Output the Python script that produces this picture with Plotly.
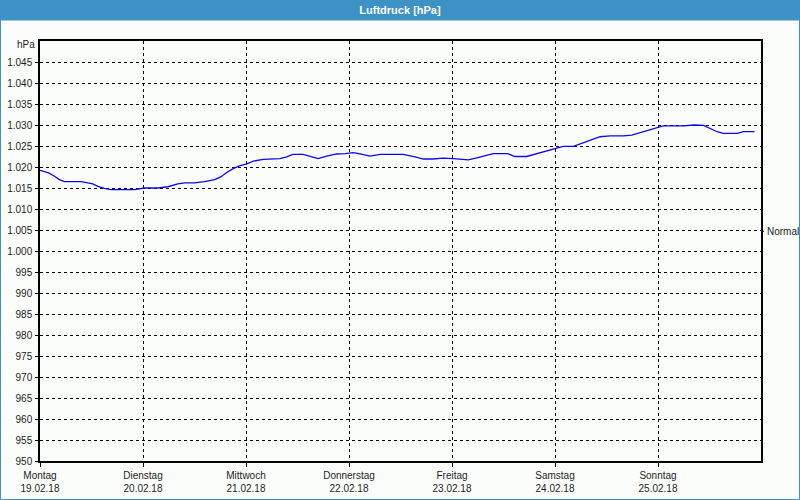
import pandas as pd
import plotly.graph_objects as go

# ---- data ----
START = "2018-02-19 00:00"
HOURS = [0, 2, 3.4, 4.5, 5.7, 9.6, 11.1, 12.3, 13.5, 15.0, 16.5, 19.8, 22.0, 24.4, 27.5,
         29.8, 32.1, 33.7, 36.0, 38.3, 40.7, 42.2, 43.5, 45.0, 46.6, 48.1, 49.7, 52.0,
         54.3, 55.9, 57.5, 58.9, 61.3, 62.9, 64.8, 66.8, 69.1, 71.1, 73.0, 74.6, 76.9,
         79.2, 84.6, 87.4, 89.3, 91.6, 93.9, 96.3, 97.9, 99.8, 101.8, 104.1, 105.6,
         108.9, 110.7, 113.4, 115.8, 118.1, 120.0, 121.9, 124.3, 126.6, 128.2, 130.5,
         132.9, 135.9, 137.9, 139.9, 141.9, 143.8, 145.2, 149.9, 152.4, 154.6, 156.2,
         157.8, 159.2, 162.5, 163.9, 166.5]
PRESSURE = [1019.2, 1018.6, 1017.8, 1017.0, 1016.5, 1016.5, 1016.2, 1016.0, 1015.4, 1014.9,
            1014.6, 1014.6, 1014.6, 1015.0, 1015.0, 1015.3, 1016.0, 1016.2, 1016.2, 1016.5,
            1017.0, 1017.7, 1018.7, 1019.6, 1020.3, 1020.7, 1021.4, 1021.8, 1022.0, 1022.0,
            1022.4, 1023.0, 1023.0, 1022.6, 1022.0, 1022.6, 1023.1, 1023.2, 1023.4, 1023.1,
            1022.6, 1023.0, 1023.0, 1022.4, 1021.9, 1021.9, 1022.1, 1022.0, 1021.9, 1021.7,
            1022.2, 1022.9, 1023.2, 1023.2, 1022.5, 1022.5, 1023.2, 1023.9, 1024.5, 1024.9,
            1024.9, 1025.7, 1026.4, 1027.2, 1027.4, 1027.4, 1027.6, 1028.2, 1028.9, 1029.5,
            1029.8, 1029.8, 1030.0, 1029.9, 1029.2, 1028.4, 1028.0, 1028.0, 1028.4, 1028.4]
NORMAL = 1004.7

DAY_DATES = ["2018-02-19", "2018-02-20", "2018-02-21", "2018-02-22",
             "2018-02-23", "2018-02-24", "2018-02-25"]
DAY_NAMES = ["Montag", "Dienstag", "Mittwoch", "Donnerstag", "Freitag", "Samstag", "Sonntag"]
DAY_LABELS = ["19.02.18", "20.02.18", "21.02.18", "22.02.18", "23.02.18", "24.02.18", "25.02.18"]
X_RANGE = ["2018-02-19 00:00", "2018-02-26 00:00"]

Y_TICKS = list(range(950, 1050, 5))
Y_RANGE = [950, 1050]

TITLE = "Luftdruck [hPa]"
UNIT = "hPa"

# ---- style ----
BLUE_BAR = "#3c92c4"
BG = "#fbfdfb"
FONT = "Liberation Sans"
TXT = "#1e1e1e"

times = pd.Timestamp(START) + pd.to_timedelta(HOURS, unit="h")

fig = go.Figure()
fig.add_trace(go.Scatter(x=times, y=PRESSURE, mode="lines",
                         line=dict(color="#0a0ae6", width=1.3),
                         hoverinfo="skip", showlegend=False))

L, R, T, B = 40, 39, 41, 39
W, H = 800, 500
pw, ph = W - L - R, H - T - B

def px_x(p):
    return (p - L) / pw

def px_y(p):
    return (H - B - p) / ph

fig.update_layout(
    width=W, height=H,
    margin=dict(l=L, r=R, t=T, b=B, autoexpand=False),
    paper_bgcolor=BG, plot_bgcolor=BG,
    separators=",.",
    font=dict(family=FONT, size=10, color=TXT),
    title=dict(text="<b>" + TITLE + "</b>", x=0.5, xref="container", xanchor="center",
               y=1 - 10.5 / H, yref="container", yanchor="middle",
               font=dict(family=FONT, size=11, color="white")),
    showlegend=False,
)

fig.update_xaxes(
    type="date", range=X_RANGE, automargin=False,
    tickvals=DAY_DATES,
    ticktext=[n + "<br>" + d for n, d in zip(DAY_NAMES, DAY_LABELS)],
    showgrid=True, gridcolor="black", gridwidth=1, griddash="3px,3px",
    showline=True, linecolor="black", linewidth=1.5, mirror=True,
    ticks="outside", ticklen=4, tickcolor="black", tickwidth=1,
    tickfont=dict(family=FONT, size=10, color=TXT),
    zeroline=False,
)
fig.update_yaxes(
    range=Y_RANGE, tickvals=Y_TICKS, tickformat=",d", automargin=False,
    showgrid=True, gridcolor="black", gridwidth=1, griddash="3px,3px",
    showline=True, linecolor="black", linewidth=1.5, mirror=True,
    ticks="outside", ticklen=3, tickcolor="black", tickwidth=1,
    ticklabelstandoff=1,
    tickfont=dict(family=FONT, size=10, color=TXT),
    zeroline=False,
)

shapes = [
    # title bar
    dict(type="rect", xref="paper", yref="paper", x0=px_x(0), x1=px_x(W),
         y0=px_y(20.5), y1=px_y(0), fillcolor=BLUE_BAR, line=dict(width=0), layer="below"),
    # outer border
    dict(type="rect", xref="paper", yref="paper", x0=px_x(0.5), x1=px_x(W - 0.5),
         y0=px_y(H - 0.5), y1=px_y(0.5), line=dict(color=BLUE_BAR, width=1),
         fillcolor="rgba(0,0,0,0)"),
    # normal tick
    dict(type="line", xref="paper", yref="y", x0=1, x1=1 + 3 / pw, y0=NORMAL, y1=NORMAL,
         line=dict(color="black", width=1)),
]
fig.update_layout(shapes=shapes)

fig.add_annotation(text="Normal", xref="paper", yref="y", x=1, y=NORMAL,
                   xanchor="left", yanchor="middle", xshift=4, showarrow=False,
                   font=dict(family=FONT, size=10, color=TXT))
fig.add_annotation(text=UNIT, xref="paper", yref="paper", x=px_x(37), y=px_y(45),
                   xanchor="right", yanchor="middle", showarrow=False,
                   font=dict(family=FONT, size=10, color=TXT))

fig.write_html("out.html")
